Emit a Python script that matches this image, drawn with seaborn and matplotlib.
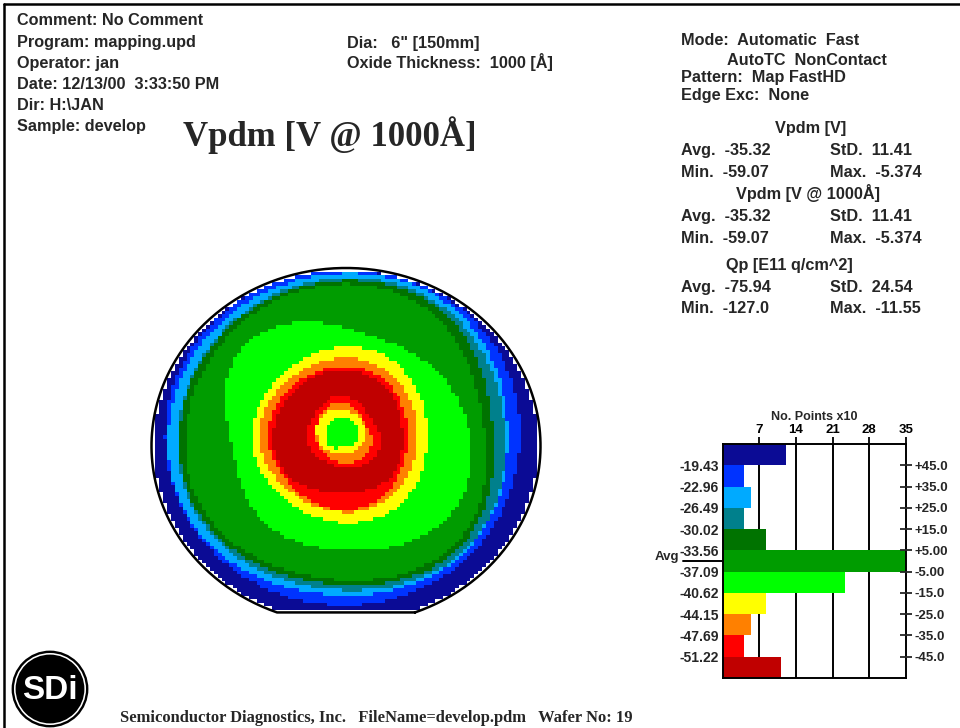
import numpy as np
import matplotlib
matplotlib.use("Agg")
import matplotlib.pyplot as plt
from matplotlib.colors import ListedColormap
from matplotlib.lines import Line2D
from matplotlib.patches import Circle
from matplotlib.transforms import blended_transform_factory
import seaborn as sns

# ---------------- data ----------------
# colour scale, top bin (least negative Vpdm) to bottom bin (most negative)
level_colors = ["#0B0B95", "#0033FF", "#00AAFF", "#00808C", "#007300",
                "#009C00", "#00FF00", "#FFFF00", "#FF8000", "#FF0000", "#C00000"]
# histogram: number of points (x10) in each bin
point_counts = [12.1, 4.1, 5.4, 4.1, 8.3, 35.0, 23.3, 8.3, 5.4, 4.1, 11.2]
# bin edges in volts and in percent of the average
vpdm_edges = [-19.43, -22.96, -26.49, -30.02, -33.56, -37.09, -40.62, -44.15, -47.69, -51.22]
pct_edges = ["+45.0", "+35.0", "+25.0", "+15.0", "+5.00", "-5.00", "-15.0", "-25.0", "-35.0", "-45.0"]
count_ticks = [7, 14, 21, 28, 35]
vpdm_avg = -35.32

# wafer map: contour radii (fraction of wafer radius) of each level boundary,
# measured from the pattern centre along eight directions (E, NE, N, NW, W, SW, S, SE)
ring_dirs_deg = [0, 45, 90, 135, 180, 225, 270, 315]
ring_levels = [6, 7, 8, 9, 10, 9, 8, 7, 6, 5, 4, 3, 2, 1, 0]
ring_radii = [
    [0.077, 0.091, 0.112, 0.100, 0.087, 0.080, 0.056, 0.070],
    [0.113, 0.130, 0.152, 0.160, 0.134, 0.110, 0.090, 0.100],
    [0.149, 0.140, 0.197, 0.165, 0.144, 0.130, 0.146, 0.150],
    [0.190, 0.183, 0.230, 0.200, 0.185, 0.170, 0.174, 0.190],
    [0.308, 0.345, 0.376, 0.360, 0.360, 0.350, 0.315, 0.330],
    [0.334, 0.370, 0.399, 0.385, 0.386, 0.380, 0.410, 0.370],
    [0.380, 0.420, 0.444, 0.425, 0.427, 0.410, 0.421, 0.410],
    [0.432, 0.480, 0.506, 0.470, 0.468, 0.460, 0.483, 0.470],
    [0.653, 0.600, 0.618, 0.720, 0.581, 0.620, 0.635, 0.700],
    [0.730, 0.800, 0.860, 0.820, 0.812, 0.820, 0.803, 0.830],
    [0.771, 0.850, 0.880, 0.850, 0.843, 0.850, 0.831, 0.860],
    [0.833, 0.880, 0.895, 0.860, 0.853, 0.870, 0.860, 0.890],
    [0.848, 0.910, 0.920, 0.900, 0.900, 0.910, 0.888, 0.900],
    [0.910, 0.940, 0.935, 0.930, 0.915, 0.930, 0.944, 0.930],
]
pattern_center = (-0.015, 0.05)
flat_v = -0.935

# ---------------- figure ----------------
sns.set_style("white")
plt.rcParams["font.family"] = ["Liberation Sans", "DejaVu Sans"]
plt.rcParams["font.weight"] = "bold"

W, H = 960, 728
fig = plt.figure(figsize=(W / 100, H / 100), dpi=100)
fig.patch.set_facecolor("white")


def fx(px):
    return px / W


def fy(py):
    return 1 - py / H


def put(x, y, s, size=11.7, ha="left", **kw):
    fig.text(fx(x), fy(y), s, fontsize=size, ha=ha, va="baseline",
             fontweight="bold", **kw)


# page frame
fig.add_artist(Line2D([fx(4), 1], [fy(4), fy(4)], color="black", lw=1.8,
                      transform=fig.transFigure))
fig.add_artist(Line2D([fx(4), fx(4)], [0, fy(4)], color="black", lw=1.8,
                      transform=fig.transFigure))

# header, left column
for i, s in enumerate(["Comment: No Comment", "Program: mapping.upd", "Operator: jan",
                       "Date: 12/13/00  3:33:50 PM", "Dir: H:\\JAN", "Sample: develop"]):
    put(17, [25, 47, 68, 89, 110, 131][i], s)

put(347, 48, "Dia:   6\" [150mm]")
put(347, 68, "Oxide Thickness:  1000 [Å]")

fig.text(fx(183), fy(146), "Vpdm [V @ 1000Å]", fontsize=25, fontweight="bold",
         family=["Liberation Serif", "DejaVu Serif"], ha="left", va="baseline")

# header, right column
put(681, 45, "Mode:  Automatic  Fast")
put(727, 65, "AutoTC  NonContact")
put(681, 82, "Pattern:  Map FastHD")
put(681, 100, "Edge Exc:  None")
put(811, 133, "Vpdm [V]", ha="center")
put(681, 155, "Avg.  -35.32")
put(830, 155, "StD.  11.41")
put(681, 177, "Min.  -59.07")
put(830, 177, "Max.  -5.374")
put(808, 199, "Vpdm [V @ 1000Å]", ha="center")
put(681, 221, "Avg.  -35.32")
put(830, 221, "StD.  11.41")
put(681, 243, "Min.  -59.07")
put(830, 243, "Max.  -5.374")
put(789, 270, "Qp [E11 q/cm^2]", ha="center")
put(681, 292, "Avg.  -75.94")
put(830, 292, "StD.  24.54")
put(681, 313, "Min.  -127.0")
put(830, 313, "Max.  -11.55")

# footer
fig.text(fx(120), fy(722),
         "Semiconductor Diagnostics, Inc.   FileName=develop.pdm   Wafer No: 19",
         fontsize=11.9, fontweight="bold", family=["Liberation Serif", "DejaVu Serif"],
         ha="left", va="baseline")

# logo
axl = fig.add_axes([fx(10), fy(729), fx(80), 80 / H])
axl.set_xlim(-1, 1)
axl.set_ylim(-1, 1)
axl.axis("off")
axl.add_patch(Circle((0, 0), 0.96, fc="black", ec="none"))
axl.add_patch(Circle((0, 0), 0.90, fc="white", ec="none"))
axl.add_patch(Circle((0, 0), 0.86, fc="black", ec="none"))
axl.text(0, -0.04, "SDi", color="white", fontsize=24, fontweight="bold",
         family=["Liberation Sans Narrow", "Liberation Sans"], ha="center", va="center")


# ---------------- wafer map ----------------
def ring_radius(samples, theta_deg):
    """Smooth periodic (trigonometric) interpolation of equally spaced samples."""
    samples = np.asarray(samples, dtype=float)
    n = len(samples)
    coef = np.fft.rfft(samples) / n
    th = np.radians(theta_deg)
    out = np.full(th.shape, coef[0].real)
    for m in range(1, n // 2 + 1):
        f = 1.0 if (n % 2 == 0 and m == n // 2) else 2.0
        out += f * (coef[m].real * np.cos(m * th) - coef[m].imag * np.sin(m * th))
    return out


N = 100
c = (np.arange(N) + 0.5) / N * 2 - 1
U, V = np.meshgrid(c, -c)
du, dv = U - pattern_center[0], V - pattern_center[1]
r = np.hypot(du, dv)
theta = np.degrees(np.arctan2(dv, du)) % 360
k = np.zeros(r.shape, dtype=int)
for row in ring_radii:
    k += r > ring_radius(row, theta)
level = np.array(ring_levels)[k].astype(float)
inside = (np.hypot(U, V) <= 0.985) & (V >= flat_v + 0.01)

axm = fig.add_axes([fx(151.5), fy(624), fx(389), 356 / H])
sns.heatmap(level, mask=~inside, cmap=ListedColormap(level_colors), vmin=-0.5,
            vmax=10.5, cbar=False, xticklabels=False, yticklabels=False, ax=axm)

# wafer outline with flat
a0 = np.degrees(np.arcsin(flat_v))
ang = np.radians(np.linspace(a0, 180 - a0, 400))
ou, ov = np.cos(ang), np.sin(ang)
ou = np.append(ou, ou[0])
ov = np.append(ov, ov[0])
axm.plot((ou + 1) / 2 * N, (1 - ov) / 2 * N, color="black", lw=1.8, clip_on=False)
axm.set_xlim(0, N)
axm.set_ylim(N, 0)
axm.axis("off")

# ---------------- histogram ----------------
bounds = ["max"] + [f"{v:.2f}" for v in vpdm_edges] + ["min"]
bin_names = [f"{bounds[i]}..{bounds[i + 1]}" for i in range(len(point_counts))]

axh = fig.add_axes([fx(722.7), fy(678), fx(183), 234 / H])
sns.barplot(x=point_counts, y=bin_names, hue=bin_names,
            palette=dict(zip(bin_names, level_colors)), orient="h", width=1.0,
            saturation=1, legend=False, edgecolor="none", linewidth=0, ax=axh)
axh.set_xlim(0, count_ticks[-1])
axh.set_ylim(len(point_counts) - 0.5, -0.5)
for t in count_ticks[:-1]:
    axh.axvline(t, color="black", lw=1.4, zorder=0.5)
for sp in axh.spines.values():
    sp.set_color("black")
    sp.set_linewidth(1.4)
axh.xaxis.tick_top()
axh.xaxis.set_label_position("top")
axh.set_xticks(count_ticks)
axh.set_xticklabels([str(t) for t in count_ticks], fontsize=9.5, fontweight="bold")
axh.set_xlabel("No. Points x10", fontsize=9, fontweight="bold", labelpad=3)
axh.tick_params(axis="x", direction="out", length=5, width=1.3, pad=1, colors="black")
ypos = np.arange(len(vpdm_edges)) + 0.5
axh.set_yticks(ypos)
axh.set_yticklabels([f"{v:.2f}" for v in vpdm_edges], fontsize=10, fontweight="bold")
axh.tick_params(axis="y", length=0, pad=3)
axh.set_ylabel("")

axr = axh.twinx()
axr.set_ylim(axh.get_ylim())
axr.set_yticks(ypos)
axr.set_yticklabels(pct_edges, fontsize=9.5, fontweight="bold")
axr.tick_params(axis="y", direction="inout", length=9, width=1.3, pad=2)
for sp in axr.spines.values():
    sp.set_visible(False)

# average marker
step = vpdm_edges[0] - vpdm_edges[1]
avg_pos = 0.5 + (vpdm_edges[0] - vpdm_avg) / step
tr = blended_transform_factory(axh.transAxes, axh.transData)
axh.plot([-0.217, 0], [avg_pos, avg_pos], color="black", lw=1.4, transform=tr,
         clip_on=False)
axh.text(-0.24, avg_pos - 0.18, "Avg", transform=tr, ha="right", va="center",
         fontsize=9.5, fontweight="bold")

fig.savefig("out.png", dpi=100, facecolor="white")
